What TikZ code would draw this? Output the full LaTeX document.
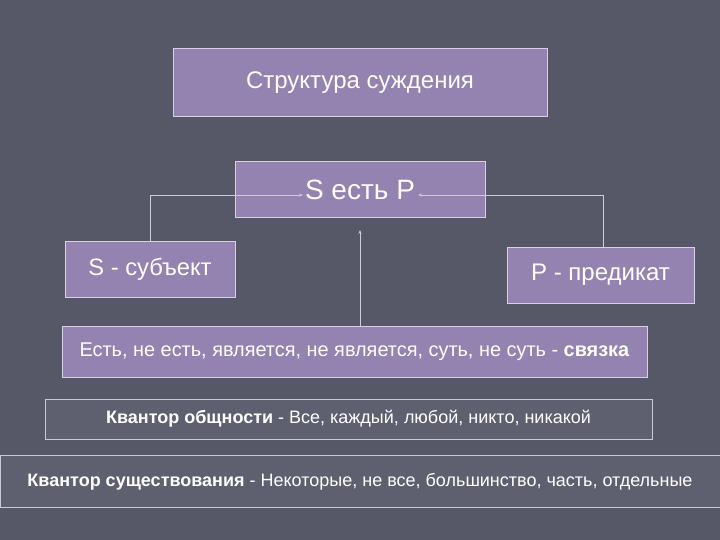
\documentclass[tikz,border=0pt]{standalone}
\usepackage{fontspec}
\setmainfont{Liberation Sans}
\usetikzlibrary{arrows.meta}
\definecolor{bgc}{RGB}{86,88,103}
\definecolor{purp}{RGB}{148,131,176}
\definecolor{pborder}{RGB}{215,208,230}
\definecolor{gfill}{RGB}{94,96,111}
\definecolor{gborder}{RGB}{200,202,212}
\definecolor{linec}{RGB}{205,205,218}
\tikzset{
  pbox/.style={draw=pborder, line width=1pt, fill=purp, text=white, inner sep=0pt},
  gbox/.style={draw=gborder, line width=1pt, fill=gfill, text=white, inner sep=0pt},
  conn/.style={draw=linec, line width=0.7pt, -{Stealth[length=4pt,width=3pt]}},
}
\begin{document}
\begin{tikzpicture}[x=1pt,y=-1pt]
\fill[bgc] (0,0) rectangle (720,540);
\useasboundingbox (0,0) rectangle (720,540);
% boxes
\node[pbox, minimum width=374pt, minimum height=68pt, font=\fontsize{24}{28}\selectfont] (title) at (360,83) {Структура суждения};
\node[pbox, minimum width=250pt, minimum height=56pt, font=\fontsize{28}{32}\selectfont] (sp) at (360,190) {S есть P};
\node[pbox, minimum width=170pt, minimum height=56pt, font=\fontsize{23.7}{28}\selectfont] (subj) at (150,269) {S - субъект};
\node[pbox, minimum width=187pt, minimum height=56pt, font=\fontsize{24}{28}\selectfont] (pred) at (600.5,275) {P - предикат};
\node[pbox, minimum width=585pt, minimum height=51pt, font=\fontsize{19.9}{24}\selectfont] (link) at (354.5,351.5) {Есть, не есть, является, не является, суть, не суть - \textbf{связка}};
\node[gbox, minimum width=607pt, minimum height=40pt, font=\fontsize{18}{22}\selectfont] (q1) at (348.5,419) {\textbf{Квантор общности} - Все, каждый, любой, никто, никакой};
\node[gbox, minimum width=720pt, minimum height=52pt, font=\fontsize{18}{22}\selectfont] (q2) at (360,481.5) {\textbf{Квантор существования} - Некоторые, не все, большинство, часть, отдельные};
% connectors
\coordinate (sL) at (303,195);
\coordinate (sR) at (418,195);
\coordinate (up) at (360,230);
\draw[conn] (subj.north) |- (sL);
\draw[conn] (pred.north -| 603,0) |- (sR);
\draw[conn] (link.north -| up) -- (up);
\end{tikzpicture}
\end{document}
